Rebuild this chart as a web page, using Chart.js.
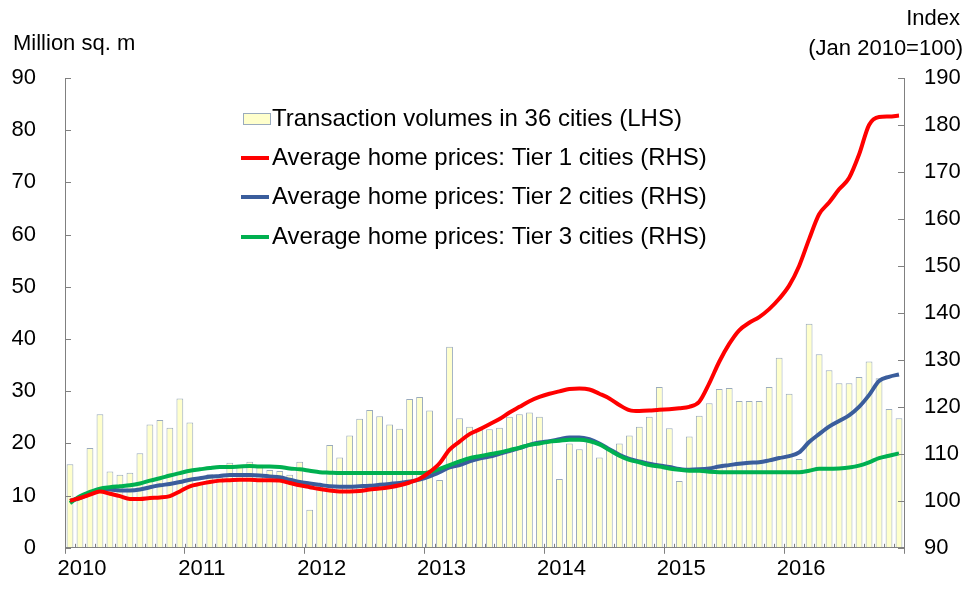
<!DOCTYPE html>
<html>
<head>
<meta charset="utf-8">
<script src="https://cdn.jsdelivr.net/npm/chart.js@4.4.1/dist/chart.umd.min.js"></script>
<style>
  html, body { margin: 0; padding: 0; background: #fff; }
  canvas { display: block; }
</style>
</head>
<body>
<canvas id="myChart" width="970" height="590"></canvas>
<script>
// years on the x axis, one bar per month
const years = ['2010', '2011', '2012', '2013', '2014', '2015', '2016'];
const months = [];
years.forEach(y => {
  for (let m = 1; m <= 12; m++) months.push(y + '-' + m);
});

// Transaction volumes in 36 cities, million sq. m (LHS)
const volumes = [
  16.0, 10.0, 19.1, 25.6, 14.6, 14.0, 14.4, 18.1, 23.6, 24.5, 23.0, 28.6,
  24.0, 12.5, 14.1, 13.5, 16.3, 15.9, 16.5, 15.9, 14.9, 14.7, 14.0, 16.5,
  7.3, 12.0, 19.7, 17.3, 21.5, 24.7, 26.4, 25.2, 23.6, 22.8, 28.5, 28.9,
  26.3, 13.0, 38.5, 24.8, 23.2, 22.6, 22.7, 23.0, 25.1, 25.6, 25.9, 25.1,
  20.5, 13.2, 20.0, 18.9, 20.2, 17.3, 18.8, 20.0, 21.5, 23.2, 25.1, 30.8,
  22.9, 12.8, 21.3, 25.3, 27.7, 30.4, 30.6, 28.1, 28.1, 28.1, 30.8, 36.4,
  29.5, 17.0, 42.9, 37.1, 34.0, 31.5, 31.5, 32.7, 35.7, 32.5, 26.6, 24.8
];

// Average home prices, index Jan 2010 = 100 (RHS)
const tier1 = [
  100.0, 100.6, 101.3, 102.0, 101.5, 101.0, 100.4, 100.4, 100.6, 100.7, 101.0, 102.0,
  103.1, 103.6, 104.0, 104.3, 104.4, 104.5, 104.5, 104.4, 104.4, 104.3, 103.8, 103.3,
  102.9, 102.5, 102.2, 102.0, 102.0, 102.1, 102.4, 102.6, 102.9, 103.3, 103.9, 104.7,
  106.1, 108.0, 110.9, 112.6, 114.2, 115.2, 116.3, 117.4, 118.8, 120.0, 121.2, 122.1,
  122.8, 123.3, 123.8, 123.9, 123.7, 122.8, 121.8, 120.4, 119.3, 119.1, 119.2, 119.4,
  119.5, 119.7, 120.0, 121.1, 125.0, 129.6, 133.4, 136.3, 137.9, 139.1, 140.8, 143.0,
  145.8, 150.0, 155.7, 161.0, 163.5, 166.3, 168.7, 173.7, 180.0, 181.7, 181.8, 182.0
];
const tier2 = [
  100.0, 100.6, 101.5, 102.4, 102.4, 102.2, 102.2, 102.4, 102.9, 103.3, 103.6, 104.0,
  104.5, 104.8, 105.1, 105.3, 105.5, 105.5, 105.5, 105.4, 105.2, 105.0, 104.5, 104.0,
  103.7, 103.4, 103.1, 103.0, 103.0, 103.1, 103.2, 103.4, 103.6, 103.8, 104.1, 104.5,
  105.2, 106.1, 107.1, 107.6, 108.4, 109.0, 109.4, 110.0, 110.6, 111.2, 111.9, 112.4,
  112.7, 113.1, 113.5, 113.5, 113.1, 112.2, 111.0, 109.8, 108.9, 108.4, 107.9, 107.5,
  107.2, 106.8, 106.6, 106.7, 106.9, 107.3, 107.6, 107.9, 108.1, 108.2, 108.6, 109.1,
  109.5, 110.3, 112.5, 114.2, 115.8, 117.0, 118.2, 120.0, 122.5, 125.5, 126.4, 126.9
];
const tier3 = [
  99.5, 101.0, 101.9, 102.6, 102.9, 103.1, 103.3, 103.7, 104.3, 104.8, 105.4, 105.9,
  106.4, 106.7, 107.0, 107.2, 107.2, 107.3, 107.4, 107.3, 107.3, 107.2, 106.9, 106.7,
  106.4, 106.1, 106.0, 105.9, 105.9, 105.9, 105.9, 105.9, 105.9, 105.9, 105.9, 105.9,
  106.1, 106.8, 107.6, 108.4, 109.1, 109.5, 109.9, 110.3, 110.8, 111.3, 111.9, 112.2,
  112.6, 112.8, 113.0, 113.0, 112.7, 112.0, 110.8, 109.6, 108.7, 108.2, 107.6, 107.3,
  106.9, 106.6, 106.4, 106.4, 106.2, 106.1, 106.1, 106.1, 106.1, 106.1, 106.1, 106.1,
  106.1, 106.1, 106.4, 106.8, 106.8, 106.9, 107.1, 107.5, 108.2, 109.1, 109.6, 110.1
];

const axisGray = '#808080';
const font = 'Liberation Sans, Arial, sans-serif';

// legend drawn inside the plot, rows stacked on the left
const legendPlugin = {
  id: 'boxLegend',
  afterDraw(chart) {
    const ctx = chart.ctx;
    const rows = [119, 158, 197, 237];
    const order = [0, 1, 2, 3];
    ctx.save();
    ctx.font = '24px ' + font;
    ctx.textBaseline = 'middle';
    ctx.textAlign = 'left';
    order.forEach((di, r) => {
      const ds = chart.data.datasets[di];
      const y = rows[r];
      if (ds.type === 'bar') {
        ctx.fillStyle = ds.backgroundColor;
        ctx.strokeStyle = ds.borderColor;
        ctx.lineWidth = 1;
        ctx.fillRect(243, y - 6, 27, 11);
        ctx.strokeRect(243.5, y - 5.5, 27, 11);
      } else {
        ctx.strokeStyle = ds.borderColor;
        ctx.lineWidth = 4;
        ctx.beginPath();
        ctx.moveTo(241, y);
        ctx.lineTo(269, y);
        ctx.stroke();
      }
      ctx.fillStyle = '#000';
      ctx.fillText(ds.label, 272, y);
    });
    ctx.restore();
  }
};

// unit labels above the axes, small inward ticks
const axisPlugin = {
  id: 'axisExtras',
  afterDraw(chart) {
    const ctx = chart.ctx;
    const x = chart.scales.x, yl = chart.scales.y, yr = chart.scales.y1;
    ctx.save();
    ctx.strokeStyle = axisGray;
    ctx.lineWidth = 1;
    ctx.beginPath();
    yl.ticks.forEach(t => {
      const py = Math.round(yl.getPixelForValue(t.value)) + 0.5;
      ctx.moveTo(yl.right, py); ctx.lineTo(yl.right + 6, py);
    });
    yr.ticks.forEach(t => {
      const py = Math.round(yr.getPixelForValue(t.value)) + 0.5;
      ctx.moveTo(yr.left, py); ctx.lineTo(yr.left - 6, py);
    });
    for (let i = 1; i < months.length; i++) {
      const px = Math.round((x.getPixelForValue(i - 1) + x.getPixelForValue(i)) / 2) + 0.5;
      ctx.moveTo(px, x.top); ctx.lineTo(px, x.top - 4);
    }
    ctx.stroke();

    ctx.fillStyle = '#000';
    ctx.font = '22px ' + font;
    ctx.textBaseline = 'middle';
    ctx.textAlign = 'left';
    ctx.fillText('Million sq. m', 13, 44);
    ctx.textAlign = 'right';
    ctx.fillText('Index', 960, 19);
    ctx.fillText('(Jan 2010=100)', 963, 49);
    ctx.restore();
  }
};

const myCanvas = document.getElementById('myChart');

const myChart = new Chart(myCanvas, {
  data: {
    labels: months,
    datasets: [{
      type: 'bar',
      label: 'Transaction volumes in 36 cities (LHS)',
      data: volumes,
      yAxisID: 'y',
      backgroundColor: '#FFFFCC',
      borderColor: '#9AABBD',
      borderWidth: 1,
      barPercentage: 0.68,
      categoryPercentage: 1.0,
      order: 10
    }, {
      type: 'line',
      label: 'Average home prices: Tier 1 cities (RHS)',
      data: tier1,
      yAxisID: 'y1',
      borderColor: '#FF0000',
      borderWidth: 4,
      pointRadius: 0,
      cubicInterpolationMode: 'monotone',
      order: 1
    }, {
      type: 'line',
      label: 'Average home prices: Tier 2 cities (RHS)',
      data: tier2,
      yAxisID: 'y1',
      borderColor: '#3A5D9C',
      borderWidth: 4,
      pointRadius: 0,
      cubicInterpolationMode: 'monotone',
      order: 3
    }, {
      type: 'line',
      label: 'Average home prices: Tier 3 cities (RHS)',
      data: tier3,
      yAxisID: 'y1',
      borderColor: '#00B050',
      borderWidth: 4,
      pointRadius: 0,
      cubicInterpolationMode: 'monotone',
      order: 2
    }]
  },
  options: {
    responsive: false,
    animation: false,
    devicePixelRatio: 1,
    layout: { padding: { top: 78, left: 0, right: 0, bottom: 0 } },
    plugins: {
      legend: { display: false },
      tooltip: { enabled: false }
    },
    scales: {
      x: {
        offset: true,
        afterFit: s => { s.height = 40; },
        grid: {
          offset: true,
          drawOnChartArea: false,
          drawTicks: true,
          tickLength: 6,
          color: c => (c.index === undefined || c.index % 12 === 0) ? axisGray : 'rgba(0,0,0,0)'
        },
        border: { display: true, color: axisGray },
        ticks: {
          autoSkip: false,
          maxRotation: 0,
          padding: 2,
          labelOffset: 12,
          color: '#000',
          font: { family: font, size: 22 },
          callback: (v, i) => i % 12 === 0 ? years[i / 12] : ''
        }
      },
      y: {
        position: 'left',
        min: 0,
        max: 90,
        afterFit: s => { s.width = 65; },
        grid: { drawOnChartArea: false, drawTicks: false },
        border: { display: true, color: axisGray },
        ticks: {
          stepSize: 10,
          padding: 29,
          color: '#000',
          font: { family: font, size: 22 }
        }
      },
      y1: {
        position: 'right',
        min: 90,
        max: 190,
        afterFit: s => { s.width = 66; },
        grid: { drawOnChartArea: false, drawTicks: false },
        border: { display: true, color: axisGray },
        ticks: {
          stepSize: 10,
          padding: 20,
          color: '#000',
          font: { family: font, size: 22 }
        }
      }
    }
  },
  plugins: [legendPlugin, axisPlugin]
});
</script>
</body>
</html>
